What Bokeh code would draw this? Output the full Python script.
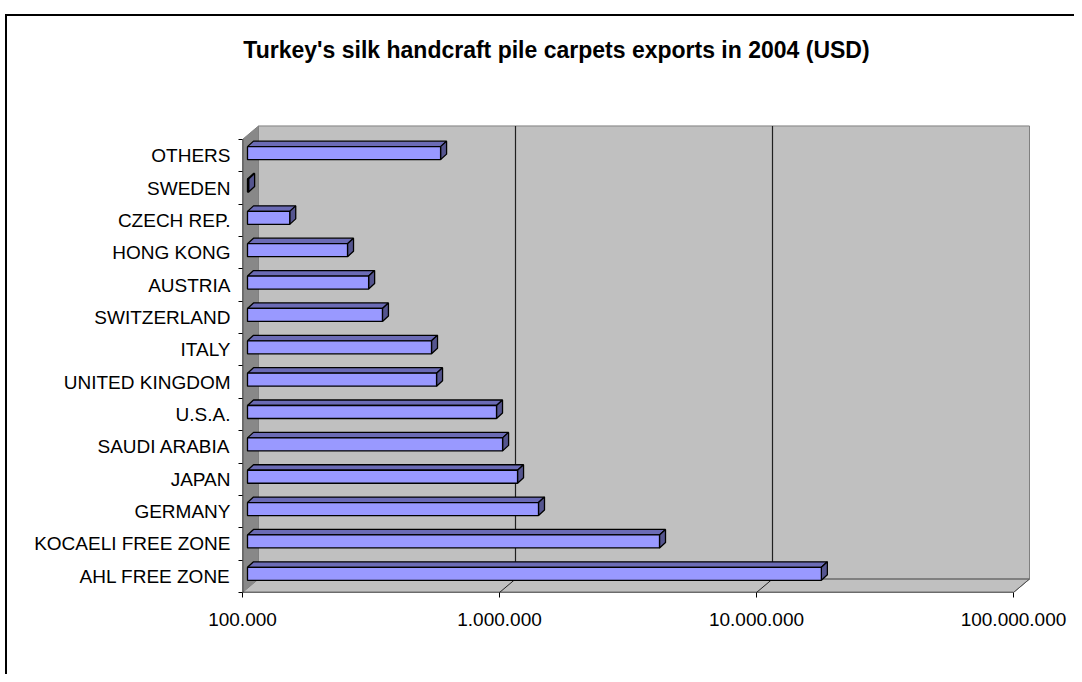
from bokeh.plotting import figure
from bokeh.models import Range1d, FixedTicker, InlineStyleSheet, Label
from bokeh.embed import file_html
from bokeh.resources import INLINE

# ---------------- data ----------------
categories = ["AHL FREE ZONE", "KOCAELI FREE ZONE", "GERMANY", "JAPAN",
              "SAUDI ARABIA", "U.S.A.", "UNITED KINGDOM", "ITALY",
              "SWITZERLAND", "AUSTRIA", "HONG KONG", "CZECH REP.",
              "SWEDEN", "OTHERS"]
values = [17100000, 4010000, 1356000, 1124000,
          983000, 931000, 544000, 520000,
          335000, 296000, 245000, 146000,
          101000, 564000]
tick_values = [100000, 1000000, 10000000, 100000000]
tick_labels = ["100.000", "1.000.000", "10.000.000", "100.000.000"]
title_text = "Turkey's silk handcraft pile carpets exports in 2004 (USD)"

# ---------------- geometry helpers (pixel styles -> data offsets) ----------------
PX_Y = 32.36      # pixels per category
PX_DEC = 257.0    # pixels per decade


def fx(px):
    return 10 ** (px / PX_DEC)


def fy(px):
    return px / PX_Y


n = len(categories)
x_lo, x_hi = tick_values[0], tick_values[-1]
y_lo, y_hi = -0.5, n - 0.5
FRAME_TOP, FRAME_LEFT = 20, 242
FRAME_W, FRAME_H = 790, 572     # frame reaches up into the title area
DX, DY = 16, 13.5               # depth of the 3-D box (px)

p = figure(width=1074, height=674, x_axis_type="log",
           x_range=Range1d(x_lo, x_lo * fx(FRAME_W)),
           y_range=Range1d(y_lo, y_lo + fy(FRAME_H)),
           min_border_left=FRAME_LEFT, min_border_right=1074 - FRAME_LEFT - FRAME_W,
           min_border_top=FRAME_TOP, min_border_bottom=674 - FRAME_TOP - FRAME_H,
           output_backend="svg", toolbar_location=None)
p.title.visible = False
p.grid.visible = False
p.outline_line_color = None
p.background_fill_color = "white"
p.border_fill_color = "white"

# chart border (outer frame of the chart object)
p.stylesheets = [InlineStyleSheet(css=(
    ":host { position: relative; }"
    ":host::after { content: ''; position: absolute; left: 5px; top: 14px;"
    " right: 0px; bottom: 0px; border-left: 2px solid black;"
    " border-top: 2px solid black; pointer-events: none; }"))]

# title
p.add_layout(Label(x=x_lo * fx(556 - FRAME_LEFT), y=y_lo + fy(FRAME_TOP + FRAME_H - 49),
                   text=title_text, text_font="Liberation Sans",
                   text_font_size="23px", text_font_style="bold", text_color="black",
                   text_align="center", text_baseline="middle"))

# ---------------- walls ----------------
bx0, bx1 = x_lo * fx(DX), x_hi * fx(DX)
by0, by1 = y_lo + fy(DY), y_hi + fy(DY)
# back wall
p.patch([bx0, bx1, bx1, bx0], [by0, by0, by1, by1],
        fill_color="#C0C0C0", line_color="#808080", line_width=1)
# left wall
p.patch([x_lo, bx0, bx0, x_lo], [y_lo, by0, by1, y_hi],
        fill_color="#888888", line_color="#808080", line_width=1)
# floor
p.patch([x_lo, x_hi, bx1, bx0], [y_lo, y_lo, by0, by0],
        fill_color="#C0C0C0", line_color="#808080", line_width=1)
p.line([bx0, bx1], [by0, by0], line_color="#808080", line_width=2)

# gridlines on back wall and floor
for t in tick_values[1:-1]:
    p.line([t * fx(DX), t * fx(DX)], [by0, by1], line_color="#202020", line_width=1.2)
    p.line([t, t * fx(DX)], [y_lo, by0], line_color="#202020", line_width=1)
p.line([x_hi, bx1], [y_lo, by0], line_color="#505050", line_width=1)

# front axis lines
p.line([x_lo, x_hi], [y_lo, y_lo], line_color="#202020", line_width=1.5)
p.line([x_lo, x_lo], [y_lo, y_hi], line_color="#202020", line_width=1.5)

# ---------------- bars ----------------
B_OFF = 5      # px depth position of bar front face
B_DEP_X, B_DEP_Y = 6, 5.5
B_HALF = 6.5
B_SHIFT = 2.5
front_xs, front_ys, top_xs, top_ys, side_xs, side_ys = [], [], [], [], [], []
for i, v in enumerate(values):
    x0 = x_lo * fx(B_OFF)
    x1 = v * fx(B_OFF)
    yc = i + fy(B_SHIFT)
    yb, yt = yc - fy(B_HALF), yc + fy(B_HALF)
    front_xs.append([x0, x1, x1, x0])
    front_ys.append([yb, yb, yt, yt])
    top_xs.append([x0, x1, x1 * fx(B_DEP_X), x0 * fx(B_DEP_X)])
    top_ys.append([yt, yt, yt + fy(B_DEP_Y), yt + fy(B_DEP_Y)])
    side_xs.append([x1, x1 * fx(B_DEP_X), x1 * fx(B_DEP_X), x1])
    side_ys.append([yb, yb + fy(B_DEP_Y), yt + fy(B_DEP_Y), yt])

p.patches(top_xs, top_ys, fill_color="#6B6BB5", line_color="black", line_width=1.3)
p.patches(side_xs, side_ys, fill_color="#55558F", line_color="black", line_width=1.3)
p.patches(front_xs, front_ys, fill_color="#9999FF", line_color="black", line_width=1.3)

# ---------------- axes ----------------
xa = p.xaxis[0]
xa.ticker = FixedTicker(ticks=tick_values, minor_ticks=[])
xa.major_label_overrides = {t: s for t, s in zip(tick_values, tick_labels)}
xa.axis_line_color = None
xa.major_tick_out = 5
xa.major_tick_in = 0
xa.major_tick_line_color = "black"
xa.major_label_text_font = "Liberation Sans"
xa.major_label_text_font_size = "19px"
xa.major_label_text_color = "black"
xa.major_label_standoff = 15

ya = p.yaxis[0]
ya.ticker = FixedTicker(ticks=list(range(n)),
                        minor_ticks=[i - 0.5 for i in range(n + 1)])
ya.major_label_overrides = {i: c for i, c in enumerate(categories)}
ya.axis_line_color = None
ya.major_tick_out = 0
ya.major_tick_in = 0
ya.minor_tick_out = 4
ya.minor_tick_in = 0
ya.minor_tick_line_color = "black"
ya.major_label_text_font = "Liberation Sans"
ya.major_label_text_font_size = "19px"
ya.major_label_text_color = "black"
ya.major_label_standoff = 8

open("out.html", "w").write(file_html(p, INLINE))
